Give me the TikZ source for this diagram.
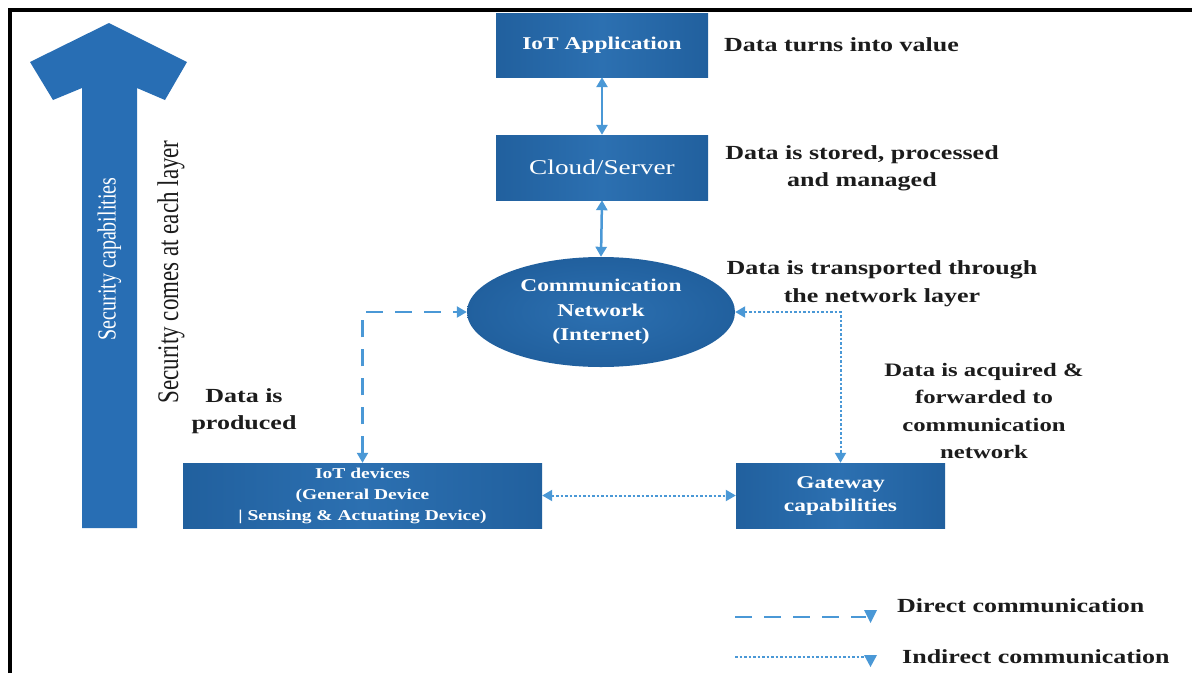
\documentclass[tikz,border=0pt]{standalone}
\usepackage{fontspec}
\setmainfont{Liberation Serif}[FakeStretch=1.3]
\newfontfamily\rotfont{Liberation Serif}
\usetikzlibrary{arrows.meta,shapes.geometric}
\definecolor{boxmid}{RGB}{44,112,177}
\definecolor{boxedge}{RGB}{33,96,158}
\definecolor{arrowblue}{RGB}{74,152,214}
\definecolor{bigarrow}{RGB}{40,110,180}
\definecolor{ink}{RGB}{28,28,28}
\begin{document}
\begin{tikzpicture}[x=1pt,y=-1pt,
  box/.style={draw=none, left color=boxedge, right color=boxedge, middle color=boxmid,
    text=white, inner sep=0, align=center, rectangle},
  conn/.style={arrowblue, line width=2.5pt,
    {Triangle[length=10pt,width=11pt]}-{Triangle[length=10pt,width=11pt]}},
  direct/.style={conn, line width=2.2pt, dash pattern=on 17pt off 12pt},
  indirect/.style={conn, line width=2pt, dash pattern=on 2.5pt off 2pt},
  lbl/.style={text=ink, font=\bfseries\fontsize{20}{27.5}\selectfont, align=center, inner sep=0},
]
\useasboundingbox (0,0) rectangle (1192,673);
\fill[white] (0,0) rectangle (1192,673);
% frame
\draw[line width=4pt, black] (10,673) -- (10,10) -- (1192,10);

% big security arrow
\fill[bigarrow] (82,528) -- (82,88) -- (53,100) -- (30,62) -- (109,23) -- (187,62)
  -- (165,100) -- (137,88) -- (137,528) -- cycle;
\node[rotate=90, text=white, inner sep=0, font=\rotfont\fontsize{20}{24}\selectfont]
  (seccap) at (109.5,259) {\scalebox{1}[1.3]{Security capabilities}};
\node[rotate=90, text=ink, inner sep=0, font=\rotfont\fontsize{23}{27}\selectfont]
  (seclayer) at (171,272) {\scalebox{1}[1.3]{Security comes at each layer}};

% boxes
\node[box, minimum width=212pt, minimum height=64pt, font=\bfseries\fontsize{18}{22}\selectfont]
  (app) at (602,45) {IoT Application};
\node[box, minimum width=212pt, minimum height=65pt, font=\fontsize{21}{25}\selectfont]
  (cloud) at (602,167.5) {Cloud/Server};
\node[ellipse, draw=none, inner color=boxmid, outer color=boxedge, text=white, inner sep=0,
  minimum width=268pt, minimum height=110pt, align=center,
  font=\bfseries\fontsize{18}{24.5}\selectfont]
  (net) at (601,312) {Communication\\Network\\(Internet)};
\node[box, minimum width=359pt, minimum height=65pt, font=\bfseries\fontsize{15}{21}\selectfont]
  (dev) at (362.5,495.5) {IoT devices\\(General Device\\| Sensing \& Actuating Device)};
\node[box, minimum width=209pt, minimum height=65pt, font=\bfseries\fontsize{18}{23}\selectfont]
  (gw) at (840.5,495.5) {Gateway\\capabilities};

% connectors
\draw[conn] (app.south) -- (cloud.north);
\draw[conn] (cloud.south) -- (net.north);
\draw[direct] (dev.north) |- (net.west);
\draw[indirect] (net.east) -| (gw.north);
\draw[indirect] (dev.east) -- (gw.west);

% labels
\node[lbl, anchor=west] (t1) at (724,45) {Data turns into value};
\node[lbl] (t2) at (862,168.5) {Data is stored, processed\\and managed};
\node[lbl] (t3) at (882,283.5) {Data is transported through\\the network layer};
\node[lbl, font=\bfseries\fontsize{19}{27.5}\selectfont] (t4) at (984,411)
  {Data is acquired \&\\forwarded to\\communication\\network};
\node[lbl] (t5) at (244,411) {Data is\\produced};

% legend
\coordinate (d1) at (735,617);
\coordinate (d2) at (866,617);
\draw[arrowblue, line width=2.2pt, dash pattern=on 17pt off 12pt] (d1) -- (d2);
\fill[arrowblue] (864,610) -- (877,610) -- (870.5,623) -- cycle;
\node[lbl, anchor=west] (ld) at (897,606) {Direct communication};
\coordinate (i1) at (735,657);
\coordinate (i2) at (866,657);
\draw[arrowblue, line width=2pt, dash pattern=on 2.5pt off 2pt] (i1) -- (i2);
\fill[arrowblue] (864,655) -- (877,655) -- (870.5,667) -- cycle;
\node[lbl, anchor=west] (li) at (902,657) {Indirect communication};
\end{tikzpicture}
\end{document}
